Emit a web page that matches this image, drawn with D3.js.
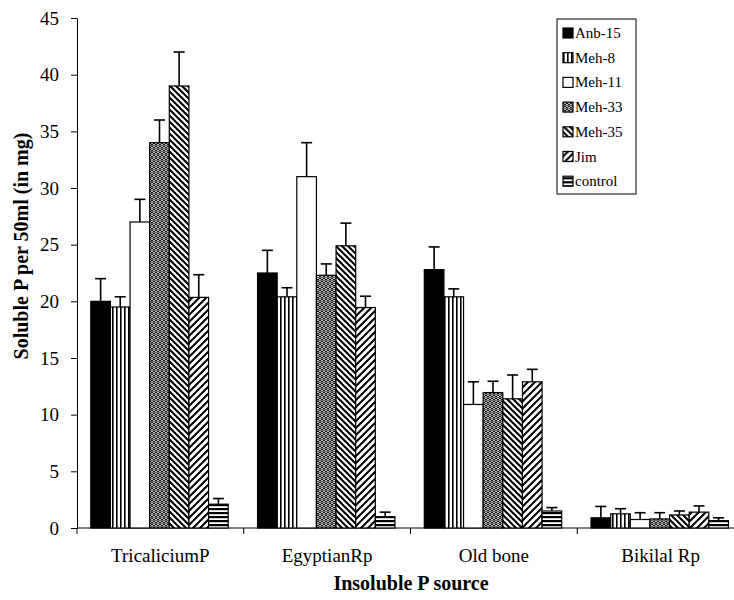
<!DOCTYPE html>
<html>
<head>
<meta charset="utf-8">
<script src="https://cdn.jsdelivr.net/npm/d3@7"></script>
<style>
  body { margin: 0; background: #fff; }
  svg text { font-family: "Liberation Serif", "Times New Roman", serif; fill: #000; }
</style>
</head>
<body>
<div id="chart"></div>
<script>
var categories = ["TricaliciumP", "EgyptianRp", "Old bone", "Bikilal Rp"];
var seriesNames = ["Anb-15", "Meh-8", "Meh-11", "Meh-33", "Meh-35", "Jim", "control"];

var anb15 = [20, 22.5, 22.8, 0.9];
var meh8 = [19.5, 20.4, 20.4, 1.25];
var meh11 = [27, 31, 10.9, 0.75];
var meh33 = [34, 22.3, 11.95, 0.8];
var meh35 = [39, 24.9, 11.4, 1.15];
var jim = [20.35, 19.45, 12.9, 1.4];
var control = [2.1, 1.0, 1.5, 0.65];

var anb15Err = [2, 2, 2, 1];
var meh8Err = [0.9, 0.8, 0.7, 0.45];
var meh11Err = [2, 3, 2, 0.6];
var meh33Err = [2, 1, 1, 0.55];
var meh35Err = [3, 2, 2.1, 0.35];
var jimErr = [2, 1, 1.1, 0.55];
var controlErr = [0.5, 0.4, 0.3, 0.25];

var yTicks = [0, 5, 10, 15, 20, 25, 30, 35, 40, 45];

var values = [anb15, meh8, meh11, meh33, meh35, jim, control];
var errors = [anb15Err, meh8Err, meh11Err, meh33Err, meh35Err, jimErr, controlErr];
var fills = ["#000", "url(#p-vert)", "#fff", "url(#p-dots)", "url(#p-back)", "url(#p-fwd)", "url(#p-horiz)"];

var font = "Liberation Serif";
var width = 734, height = 600;
var svg = d3.select("#chart").append("svg").attr("width", width).attr("height", height)
  .attr("font-family", font);

// patterns
var defs = svg.append("defs");
var p;
p = defs.append("pattern").attr("id", "p-vert").attr("patternUnits", "userSpaceOnUse").attr("width", 4).attr("height", 4);
p.append("rect").attr("width", 4).attr("height", 4).attr("fill", "#fff");
p.append("rect").attr("x", 0).attr("width", 1.6).attr("height", 4).attr("fill", "#000");

p = defs.append("pattern").attr("id", "p-horiz").attr("patternUnits", "userSpaceOnUse").attr("width", 4).attr("height", 4);
p.append("rect").attr("width", 4).attr("height", 4).attr("fill", "#fff");
p.append("rect").attr("y", 0).attr("width", 4).attr("height", 2.2).attr("fill", "#000");

p = defs.append("pattern").attr("id", "p-back").attr("patternUnits", "userSpaceOnUse").attr("width", 6).attr("height", 6);
p.append("rect").attr("width", 6).attr("height", 6).attr("fill", "#fff");
p.append("path").attr("d", "M-1,-1L7,7M-1,5L1,7M5,-1L7,1").attr("stroke", "#000").attr("stroke-width", 2);

p = defs.append("pattern").attr("id", "p-fwd").attr("patternUnits", "userSpaceOnUse").attr("width", 7).attr("height", 7);
p.append("rect").attr("width", 7).attr("height", 7).attr("fill", "#fff");
p.append("path").attr("d", "M-1,8L8,-1M-1,1L1,-1M6,8L8,6").attr("stroke", "#000").attr("stroke-width", 2);

p = defs.append("pattern").attr("id", "p-dots").attr("patternUnits", "userSpaceOnUse").attr("width", 4).attr("height", 6);
p.append("rect").attr("width", 4).attr("height", 6).attr("fill", "#000");
p.append("circle").attr("cx", 2).attr("cy", 1.5).attr("r", 1.1).attr("fill", "none").attr("stroke", "#fff").attr("stroke-width", 0.9);
p.append("circle").attr("cx", 0).attr("cy", 4.5).attr("r", 1.1).attr("fill", "none").attr("stroke", "#fff").attr("stroke-width", 0.9);
p.append("circle").attr("cx", 4).attr("cy", 4.5).attr("r", 1.1).attr("fill", "none").attr("stroke", "#fff").attr("stroke-width", 0.9);

var x0 = d3.scaleBand().domain(categories).range([77, 744]);
var x1 = d3.scaleBand().domain(seriesNames).range([13.8, 151.2]);
var y = d3.scaleLinear().domain([0, 45]).range([528, 18]);

// y axis
var yAxis = svg.append("g").attr("transform", "translate(77,0)")
  .call(d3.axisLeft(y).tickValues(yTicks).tickSize(6).tickPadding(12).tickSizeOuter(0));
yAxis.attr("font-family", font).attr("font-size", 19);
yAxis.select(".domain").attr("stroke", "#000");
yAxis.selectAll("line").attr("stroke", "#000");
yAxis.selectAll("text").attr("fill", "#000");

// x axis: ticks at group boundaries
var xAxis = svg.append("g").attr("transform", "translate(0,528)");
xAxis.append("line").attr("x1", 77).attr("x2", 744).attr("stroke", "#000");
xAxis.selectAll("line.tk").data(categories).enter().append("line").attr("class", "tk")
  .attr("x1", function(d) { return x0(d); }).attr("x2", function(d) { return x0(d); })
  .attr("y1", 0).attr("y2", 6).attr("stroke", "#000");
xAxis.selectAll("text").data(categories).enter().append("text")
  .attr("x", function(d) { return x0(d) + x0.bandwidth() / 2; })
  .attr("y", 34).attr("text-anchor", "middle").attr("font-size", 19).text(function(d) { return d; });

// bars
var groups = svg.selectAll("g.series").data(seriesNames).enter().append("g").attr("class", "series");
groups.each(function(s, si) {
  var g = d3.select(this);
  var rows = categories.map(function(c, ci) { return { cat: c, v: values[si][ci], e: errors[si][ci] }; });
  var bx = function(d) { return x0(d.cat) + x1(s); };
  g.selectAll("line.err").data(rows).enter().append("line").attr("class", "err")
    .attr("x1", function(d) { return bx(d) + x1.bandwidth() / 2; })
    .attr("x2", function(d) { return bx(d) + x1.bandwidth() / 2; })
    .attr("y1", function(d) { return y(d.v); })
    .attr("y2", function(d) { return y(d.v + d.e); })
    .attr("stroke", "#000").attr("stroke-width", 1.6);
  g.selectAll("line.cap").data(rows).enter().append("line").attr("class", "cap")
    .attr("x1", function(d) { return bx(d) + x1.bandwidth() / 2 - 5.5; })
    .attr("x2", function(d) { return bx(d) + x1.bandwidth() / 2 + 5.5; })
    .attr("y1", function(d) { return y(d.v + d.e); })
    .attr("y2", function(d) { return y(d.v + d.e); })
    .attr("stroke", "#000").attr("stroke-width", 1.6);
  g.selectAll("rect").data(rows).enter().append("rect")
    .attr("x", bx)
    .attr("y", function(d) { return y(d.v); })
    .attr("width", x1.bandwidth())
    .attr("height", function(d) { return y(0) - y(d.v); })
    .attr("fill", fills[si]).attr("stroke", "#000").attr("stroke-width", 1.2);
});

// axis titles
svg.append("text").attr("transform", "translate(28,246) rotate(-90)")
  .attr("text-anchor", "middle").attr("font-size", 20).attr("font-weight", "bold")
  .text("Soluble P per 50ml (in mg)");
svg.append("text").attr("x", 411).attr("y", 590)
  .attr("text-anchor", "middle").attr("font-size", 20).attr("font-weight", "bold")
  .text("Insoluble P source");

// legend
var legend = svg.append("g").attr("transform", "translate(557,19)");
legend.append("rect").attr("width", 79).attr("height", 175).attr("fill", "#fff").attr("stroke", "#000");
var items = legend.selectAll("g.item").data(seriesNames).enter().append("g").attr("class", "item")
  .attr("transform", function(d, i) { return "translate(6," + (14 + i * 24.7) + ")"; });
items.append("rect").attr("x", 0).attr("y", -5).attr("width", 10).attr("height", 10)
  .attr("fill", function(d, i) { return fills[i]; }).attr("stroke", "#000").attr("stroke-width", 1.2);
items.append("text").attr("x", 12).attr("y", 5).attr("font-size", 15).text(function(d) { return d; });
</script>
</body>
</html>
